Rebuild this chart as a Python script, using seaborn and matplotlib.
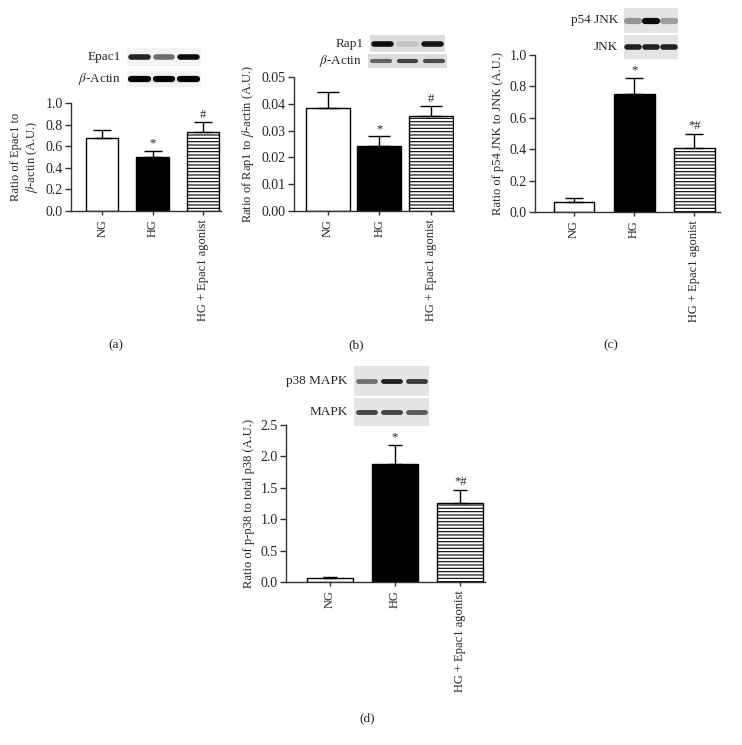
import numpy as np
import pandas as pd
import seaborn as sns
import matplotlib.pyplot as plt

# Data
groups = ['NG', 'HG', 'HG + Epac1 agonist']

epac1_mean = [0.68, 0.50, 0.73]
epac1_top = [0.75, 0.56, 0.82]
rap1_mean = [0.0385, 0.0243, 0.0355]
rap1_top = [0.0445, 0.0278, 0.0390]
jnk_mean = [0.065, 0.75, 0.41]
jnk_top = [0.088, 0.855, 0.50]
p38_mean = [0.07, 1.88, 1.26]
p38_top = [0.085, 2.18, 1.47]

marks_ab = ['', '*', '#']
marks_cd = ['', '*', '*#']

# band darkness per lane on the blots
blot_epac1 = [0.85, 0.55, 0.95]
blot_actin_a = [1.0, 1.0, 1.0]
blot_rap1 = [0.95, 0.12, 0.9]
blot_actin_b = [0.55, 0.7, 0.65]
blot_p54 = [0.35, 0.95, 0.3]
blot_jnk = [0.85, 0.85, 0.85]
blot_p38 = [0.5, 0.85, 0.75]
blot_mapk = [0.7, 0.7, 0.6]

sns.set_style('ticks')
plt.rcParams['font.family'] = ['Liberation Serif', 'DejaVu Serif']
plt.rcParams['mathtext.fontset'] = 'stix'
plt.rcParams['hatch.linewidth'] = 0.8
plt.rcParams['font.size'] = 9

W, H = 742, 745
fig = plt.figure(figsize=(W / 100, H / 100), dpi=100)


def px_axes(x0, y0, x1, y1):
    return fig.add_axes([x0 / W, 1 - y1 / H, (x1 - x0) / W, (y1 - y0) / H])


def bar_panel(box, mean, top, marks, ylim, yticks, fmt, ylabel, xlim, width, cap):
    ax = px_axes(*box)
    df = pd.DataFrame({'group': groups, 'value': mean})
    sns.barplot(data=df, x='group', y='value', hue='group',
                palette=['white', 'black', 'white'], width=width,
                edgecolor='black', linewidth=1, errorbar=None,
                legend=False, ax=ax)
    for patch, h in zip(ax.patches, ['', '', '-----']):
        patch.set_hatch(h)
    err = np.array(top) - np.array(mean)
    ax.errorbar(range(3), mean, yerr=[np.zeros(3), err], fmt='none',
                ecolor='black', elinewidth=1, capsize=cap, capthick=1)
    for i, m in enumerate(marks):
        if m:
            ax.annotate(m, (i, top[i]), xytext=(0, 1), textcoords='offset points',
                        ha='center', va='bottom', fontsize=9)
    ax.set_ylim(*ylim)
    ax.set_xlim(*xlim)
    ax.set_yticks(yticks)
    ax.set_yticklabels([fmt.format(t) for t in yticks], fontsize=10)
    ax.set_xticks(range(3))
    ax.set_xticklabels(groups, rotation=90, fontsize=9)
    ax.set_xlabel('')
    ax.set_ylabel(ylabel, fontsize=9)
    sns.despine(ax=ax)
    for s in ['left', 'bottom']:
        ax.spines[s].set_color('#333333')
        ax.spines[s].set_linewidth(1)
    ax.tick_params(axis='y', length=4, width=1, color='#333333', pad=2)
    ax.tick_params(axis='x', length=3, width=1, color='#333333', pad=3)
    return ax


def blot(box, bands, label, bg, lw):
    ax = px_axes(*box)
    ax.set_facecolor(bg)
    for i, b in enumerate(bands):
        ax.plot([i - 0.34, i + 0.34], [0, 0], color='black', alpha=b, lw=lw,
                solid_capstyle='round')
    ax.set_xlim(-0.5, 2.5)
    ax.set_ylim(-1, 1)
    ax.set_xticks([])
    ax.set_yticks([])
    for s in ax.spines.values():
        s.set_visible(False)
    fig.text((box[0] - 6) / W, 1 - ((box[1] + box[3]) / 2) / H, label,
             ha='right', va='center', fontsize=9.5)


# (a)
bar_panel((71, 103, 221, 211), epac1_mean, epac1_top, marks_ab, (0, 1.0),
          [0, 0.2, 0.4, 0.6, 0.8, 1.0], '{:.1f}',
          'Ratio of Epac1 to\n$\\beta$-actin (A.U.)', (-0.62, 2.36), 0.64, 6.5)
blot((127, 48, 201, 66), blot_epac1, 'Epac1', '#f4f4f4', 4)
blot((127, 71, 201, 87), blot_actin_a, '$\\beta$-Actin', '#f4f4f4', 4.5)

# (b)
bar_panel((294, 77, 454, 211), rap1_mean, rap1_top, marks_ab, (0, 0.05),
          [0, 0.01, 0.02, 0.03, 0.04, 0.05], '{:.2f}',
          'Ratio of Rap1 to $\\beta$-actin (A.U.)', (-0.65, 2.44), 0.85, 8)
blot((370, 35, 445, 52), blot_rap1, 'Rap1', '#dcdede', 4)
blot((368, 54, 447, 68), blot_actin_b, '$\\beta$-Actin', '#dcdede', 3)

# (c)
bar_panel((535, 55, 720, 212), jnk_mean, jnk_top, marks_cd, (0, 1.0),
          [0, 0.2, 0.4, 0.6, 0.8, 1.0], '{:.1f}',
          'Ratio of p54 JNK to JNK (A.U.)', (-0.65, 2.43), 0.68, 6.5)
blot((624, 8, 678, 33), blot_p54, 'p54 JNK', '#e4e4e4', 4.5)
blot((624, 35, 678, 59), blot_jnk, 'JNK', '#e4e4e4', 4)

# (d)
bar_panel((286, 425, 485, 582), p38_mean, p38_top, marks_cd, (0, 2.5),
          [0, 0.5, 1.0, 1.5, 2.0, 2.5], '{:.1f}',
          'Ratio of p-p38 to total p38 (A.U.)', (-0.67, 2.38), 0.7, 5)
blot((354, 366, 429, 396), blot_p38, 'p38 MAPK', '#e4e6e6', 3.5)
blot((354, 398, 429, 426), blot_mapk, 'MAPK', '#e4e6e6', 3.5)

for x, y, t in [(116, 345, '(a)'), (356, 345, '(b)'), (611, 345, '(c)'), (367, 718, '(d)')]:
    fig.text(x / W, 1 - y / H, t, ha='center', va='center', fontsize=9.5)

fig.savefig('out.png', dpi=100)
